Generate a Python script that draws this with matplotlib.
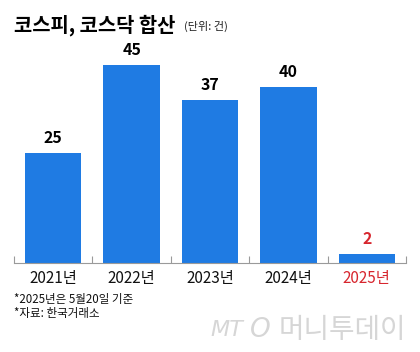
import matplotlib
matplotlib.use("Agg")
import matplotlib.pyplot as plt

plt.rcParams['font.family'] = ['Noto Sans CJK KR', 'DejaVu Sans']

# data
years = ['2021년', '2022년', '2023년', '2024년', '2025년']
counts = [25, 45, 37, 40, 2]
title = '코스피, 코스닥 합산'
unit = '(단위: 건)'
notes = ['*2025년은 5월20일 기준', '*자료: 한국거래소']

blue = '#1f7be3'
red = '#d7262e'

fig = plt.figure(figsize=(4.2, 3.52), dpi=100)
ax = fig.add_axes([14/420, 1 - 263/352, 392/420, 220/352])

x = range(len(years))
ax.bar(x, counts, width=0.72, color=blue)

for i, v in enumerate(counts):
    c = red if i == len(counts) - 1 else 'black'
    ax.annotate(str(v), (i, v), xytext=(0, 5), textcoords='offset points',
                ha='center', va='bottom', fontsize=11.5, fontweight='bold', color=c)

ax.set_xlim(-0.5, len(years) - 0.5)
ax.set_ylim(0, 50)

for s in ['top', 'right', 'left']:
    ax.spines[s].set_visible(False)
ax.spines['bottom'].set_color('#9a9a9a')
ax.spines['bottom'].set_linewidth(0.8)
ax.set_yticks([])

# boundary ticks pointing up, labels at bar centres
ax.set_xticks([i - 0.5 for i in range(len(years) + 1)])
ax.set_xticklabels([])
ax.tick_params(axis='x', direction='in', length=5, color='#9a9a9a', width=0.8)
for i, lab in enumerate(years):
    c = red if i == len(years) - 1 else '#111111'
    ax.text(i, -3.6, lab, ha='center', va='center', fontsize=11, color=c)

fig.text(14/420, 1 - 31/352, title, fontsize=14.3, fontweight='bold', ha='left', va='baseline')
fig.text(184/420, 1 - 30/352, unit, fontsize=8, ha='left', va='baseline', color='#222222')

fig.text(14/420, 1 - 300/352, notes[0], fontsize=8.3, ha='left', va='center', color='#111111')
fig.text(14/420, 1 - 313/352, notes[1], fontsize=8.3, ha='left', va='center', color='#111111')

# watermark
fig.text(210/420, 1 - 330/352, 'MT', fontsize=16, style='italic', color='#d6d6d6',
         ha='left', va='center', family='DejaVu Sans')
fig.text(250/420, 1 - 330/352, 'O', fontsize=19, style='italic', color='#d6d6d6',
         ha='left', va='center', family='DejaVu Sans')
fig.text(406/420, 1 - 330/352, '머니투데이', fontsize=20, color='#d6d6d6',
         ha='right', va='center')

fig.savefig('out.png', dpi=100, facecolor='white')
